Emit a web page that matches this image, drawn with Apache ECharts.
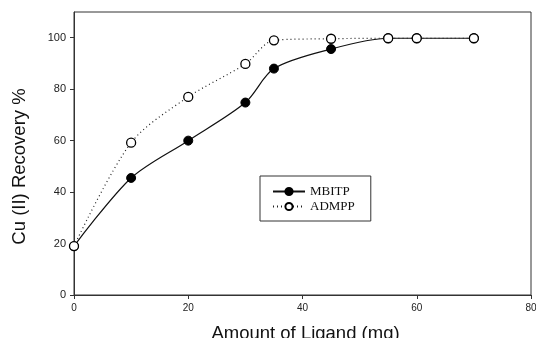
<!DOCTYPE html>
<html>
<head>
<meta charset="utf-8">
<script src="https://cdn.jsdelivr.net/npm/echarts@6/dist/echarts.min.js"></script>
<style>
  html, body { margin: 0; padding: 0; background: #fff; }
  #chart { width: 536px; height: 338px; }
</style>
</head>
<body>
<div id="chart"></div>
<script>
// ligand amount (mg)
const ligandAmount = [0, 10, 20, 30, 35, 45, 55, 60, 70];
const mbitpRecovery = [19, 45.5, 60, 74.8, 88, 95.6, 99.8, 99.8, 99.8];
const admppRecovery = [19, 59.2, 77, 89.8, 99, 99.6, 99.8, 99.8, 99.8];

const toPairs = (xs, ys) => xs.map((x, i) => [x, ys[i]]);

const chart = echarts.init(document.getElementById('chart'), null, { renderer: 'canvas' });

const axisColor = '#333';

const option = {
  backgroundColor: '#fff',
  animation: false,
  grid: {
    left: 74, right: 5, top: 12, bottom: 43,
    outerBoundsMode: 'none',
    show: true, borderColor: axisColor, borderWidth: 1
  },
  legend: {
    orient: 'vertical',
    left: 260, top: 176,
    padding: [9, 16, 8, 12],
    itemGap: 2,
    itemWidth: 32,
    itemHeight: 9,
    borderColor: axisColor,
    borderWidth: 1,
    textStyle: { fontFamily: 'Liberation Serif', fontSize: 13, color: '#111' },
    data: ['MBITP', 'ADMPP']
  },
  xAxis: {
    type: 'value',
    min: 0, max: 80, interval: 20,
    name: 'Amount of Ligand (mg)',
    nameLocation: 'middle',
    nameGap: 29,
    nameTextStyle: { fontFamily: 'Liberation Sans', fontSize: 18.5, color: '#111', padding: [0, 0, 0, 6] },
    axisLine: { lineStyle: { color: axisColor } },
    axisTick: { show: true, length: 4, lineStyle: { color: axisColor } },
    axisLabel: { fontFamily: 'Liberation Sans', fontSize: 10, color: '#222', margin: 8 },
    splitLine: { show: false }
  },
  yAxis: {
    type: 'value',
    min: 0, max: 110, interval: 20,
    name: 'Cu (II) Recovery %',
    nameLocation: 'middle',
    nameGap: 45,
    nameTextStyle: { fontFamily: 'Liberation Sans', fontSize: 18.5, color: '#111', padding: [0, 26, 0, 0] },
    axisLine: { show: true, lineStyle: { color: axisColor } },
    axisTick: { show: true, length: 4, lineStyle: { color: axisColor } },
    axisLabel: {
      fontFamily: 'Liberation Sans', fontSize: 11, color: '#222', margin: 8,
      showMaxLabel: false
    },
    splitLine: { show: false }
  },
  series: [
    {
      name: 'MBITP',
      type: 'line',
      smooth: 0.3,
      data: toPairs(ligandAmount, mbitpRecovery),
      symbol: 'circle',
      symbolSize: 9,
      lineStyle: { color: '#111', width: 1.2, type: 'solid' },
      itemStyle: { color: '#000', borderColor: '#000', borderWidth: 1 },
      z: 2
    },
    {
      name: 'ADMPP',
      type: 'line',
      smooth: 0.3,
      data: toPairs(ligandAmount, admppRecovery),
      symbol: 'circle',
      symbolSize: 9,
      lineStyle: { color: '#222', width: 1.2, type: [1, 3] },
      itemStyle: { color: '#fff', borderColor: '#000', borderWidth: 1.3 },
      z: 3
    }
  ]
};

chart.setOption(option);
</script>
</body>
</html>
